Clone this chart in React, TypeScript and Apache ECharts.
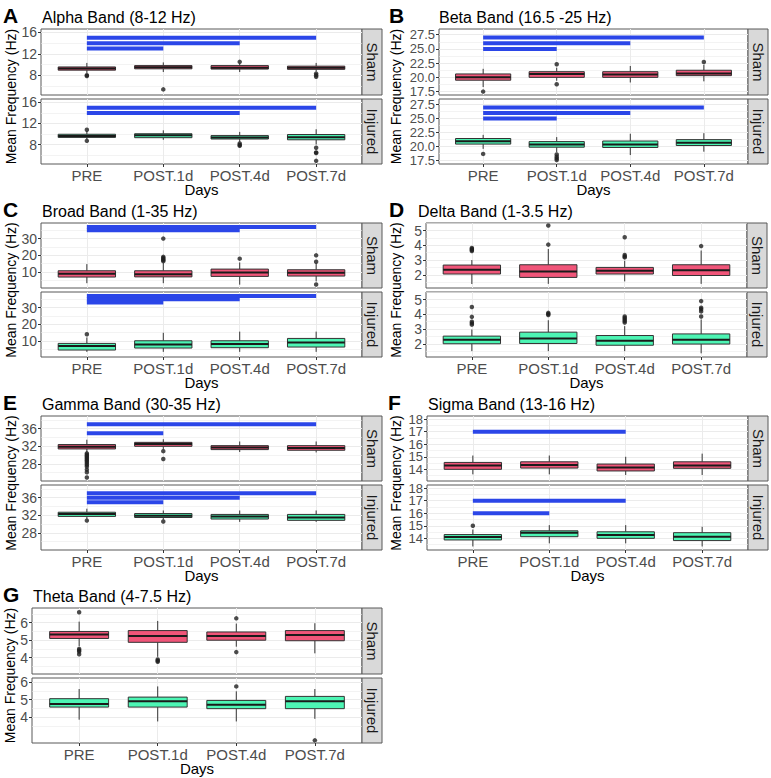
import React, { useEffect, useRef } from "react";
import * as echarts from "echarts";

const days = ["PRE", "POST.1d", "POST.4d", "POST.7d"];

// ---------- Alpha Band (8-12 Hz) ----------
const alphaTicks = [8, 12, 16];
const alphaMinor = [6, 10, 14];
const alphaRangeSham = [4.3, 16.65];
const alphaRangeInjured = [4.3, 16.65];
const alphaShamBox = [[8.4, 8.95, 9.25, 9.55, 10.3], [8.6, 9.2, 9.5, 9.8, 10.4], [8.6, 9.15, 9.4, 9.8, 10.2], [8.7, 9.1, 9.4, 9.7, 10.3]];
const alphaShamOut = [[8.0, 7.85], [5.35], [10.5], [8.3, 8.0, 7.7]];
const alphaShamSig = [[15, 4], [14, 3], [13, 2]];
const alphaInjuredBox = [[9.0, 9.35, 9.6, 9.95, 10.5], [8.9, 9.3, 9.75, 10.05, 10.7], [8.5, 9.05, 9.35, 9.7, 10.4], [8.0, 8.9, 9.4, 9.9, 10.9]];
const alphaInjuredOut = [[10.8, 8.7], [], [8.2, 7.9, 7.75], [7.4, 6.5, 6.4, 4.9]];
const alphaInjuredSig = [[15, 4], [14, 3]];

// ---------- Beta Band (16.5 -25 Hz) ----------
const betaTicks = [17.5, 20, 22.5, 25, 27.5];
const betaMinor = [18.75, 21.25, 23.75, 26.25];
const betaRangeSham = [16.9, 28.5];
const betaRangeInjured = [16.9, 28.5];
const betaShamBox = [[18.3, 19.5, 20.0, 20.6, 21.5], [19.4, 20.0, 20.6, 21.0, 21.7], [19.1, 20.0, 20.5, 21.0, 22.0], [19.3, 20.3, 20.7, 21.25, 22.2]];
const betaShamOut = [[17.5], [22.3, 18.8], [], [22.7]];
const betaShamSig = [[27, 4], [26, 3], [25, 2]];
const betaInjuredBox = [[19.6, 20.45, 20.95, 21.45, 22.1], [19.0, 19.9, 20.4, 20.9, 21.7], [18.5, 19.85, 20.4, 21.0, 22.3], [19.1, 20.2, 20.7, 21.25, 22.4]];
const betaInjuredOut = [[18.7], [18.6, 18.2, 17.9, 17.6], [], []];
const betaInjuredSig = [[27, 4], [26, 3], [25, 2]];

// ---------- Broad Band (1-35 Hz) ----------
const broadTicks = [10, 20, 30];
const broadMinor = [5, 15, 25, 35];
const broadRangeSham = [0.2, 39.4];
const broadRangeInjured = [0.2, 39.4];
const broadShamBox = [[3.1, 6.8, 8.8, 10.6, 14.6], [3.1, 6.9, 8.5, 10.6, 15.3], [2.2, 7.2, 9.6, 11.6, 15.6], [4.2, 7.4, 9.4, 11.2, 15.0]];
const broadShamOut = [[], [30, 19.0, 18.3, 17.6, 17.0, 16.4], [17.9], [19.9, 16.0, 2.3]];
const broadShamSig = [[37, 4], [35, 3]];
const broadInjuredBox = [[3.3, 4.4, 6.8, 8.4, 12.0], [3.3, 5.6, 7.8, 10.0, 14.8], [3.3, 5.8, 8.0, 10.0, 15.5], [3.3, 6.2, 9.0, 11.4, 15.5]];
const broadInjuredOut = [[13.9], [], [], []];
const broadInjuredSig = [[37, 4], [35, 3], [33, 2]];

// ---------- Delta Band (1-3.5 Hz) ----------
const deltaTicks = [2, 3, 4, 5];
const deltaMinor = [1.5, 2.5, 3.5, 4.5, 5.5];
const deltaRangeSham = [1.1, 5.52];
const deltaRangeInjured = [1.1, 5.52];
const deltaShamBox = [[1.37, 2.05, 2.34, 2.66, 3.0], [1.38, 1.82, 2.23, 2.68, 3.75], [1.55, 2.05, 2.27, 2.5, 2.95], [1.38, 1.95, 2.3, 2.68, 3.65]];
const deltaShamOut = [[3.82, 3.75, 3.68, 3.62], [5.35, 4.05], [4.55, 3.35, 3.25, 3.18], [3.95]];
const deltaShamSig: number[][] = [];
const deltaInjuredBox = [[1.5, 2.0, 2.27, 2.52, 2.97], [1.5, 2.02, 2.36, 2.79, 3.6], [1.5, 1.9, 2.2, 2.56, 3.2], [1.35, 1.98, 2.27, 2.67, 3.65]];
const deltaInjuredOut = [[4.5, 3.83, 3.5, 3.4, 3.3], [4.1, 4.02, 3.95], [3.85, 3.75, 3.65, 3.55, 3.45], [4.9, 4.45, 4.35, 4.2, 3.85]];
const deltaInjuredSig: number[][] = [];

// ---------- Gamma Band (30-35 Hz) ----------
const gammaTicks = [28, 32, 36];
const gammaMinor = [26, 30, 34, 38];
const gammaRangeSham = [24.1, 38.9];
const gammaRangeInjured = [24.1, 38.9];
const gammaShamBox = [[30.6, 31.4, 31.9, 32.4, 33.5], [31.4, 32.0, 32.5, 32.9, 33.6], [30.7, 31.25, 31.75, 32.15, 33.1], [30.6, 31.1, 31.6, 32.15, 33.1]];
const gammaShamOut = [[30.4, 30.1, 29.8, 29.5, 29.2, 28.9, 28.6, 28.2, 27.8, 27.4, 26.7, 26.1, 24.9], [30.9, 29.1], [], []];
const gammaShamSig = [[37, 4], [35, 2]];
const gammaInjuredBox = [[31.2, 31.75, 32.3, 32.7, 33.5], [31.0, 31.5, 31.9, 32.4, 33.1], [30.5, 31.15, 31.7, 32.2, 33.1], [30.5, 30.85, 31.5, 32.2, 33.1]];
const gammaInjuredOut = [[30.8], [30.6], [], []];
const gammaInjuredSig = [[37, 4], [36, 3], [35, 2]];

// ---------- Sigma Band (13-16 Hz) ----------
const sigmaTicks = [14, 15, 16, 17, 18];
const sigmaMinor = [13.5, 14.5, 15.5, 16.5, 17.5];
const sigmaRangeSham = [13.07, 18.25];
const sigmaRangeInjured = [13.07, 18.25];
const sigmaShamBox = [[13.6, 14.0, 14.3, 14.55, 15.1], [13.6, 14.1, 14.35, 14.6, 15.1], [13.55, 13.87, 14.15, 14.42, 15.0], [13.55, 14.08, 14.3, 14.6, 15.25]];
const sigmaShamOut: number[][] = [[], [], [], []];
const sigmaShamSig = [[17, 3]];
const sigmaInjuredBox = [[13.35, 13.87, 14.1, 14.3, 14.7], [13.6, 14.13, 14.45, 14.6, 15.05], [13.6, 14.0, 14.26, 14.52, 15.05], [13.35, 13.82, 14.13, 14.45, 14.92]];
const sigmaInjuredOut = [[15.0], [], [], []];
const sigmaInjuredSig = [[17, 3], [16, 2]];

// ---------- Theta Band (4-7.5 Hz) ----------
const thetaTicks = [4, 5, 6];
const thetaMinor = [2.5, 3.5, 4.5, 5.5, 6.5];
const thetaRangeSham = [3.07, 6.84];
const thetaRangeInjured = [2.52, 6.23];
const thetaShamBox = [[4.65, 5.1, 5.33, 5.5, 6.06], [4.05, 4.88, 5.24, 5.55, 6.1], [4.63, 5.0, 5.24, 5.47, 5.95], [4.25, 4.97, 5.3, 5.55, 5.97]];
const thetaShamOut = [[6.6, 4.5, 4.42, 4.35, 4.2], [3.9, 3.83, 3.77], [6.25, 4.32], []];
const thetaShamSig: number[][] = [];
const thetaInjuredBox = [[3.85, 4.57, 4.74, 5.05, 5.6], [3.75, 4.57, 4.9, 5.14, 5.75], [3.75, 4.48, 4.7, 4.95, 5.47], [3.9, 4.48, 4.9, 5.18, 5.6]];
const thetaInjuredOut = [[], [], [5.75], [2.67]];
const thetaInjuredSig: number[][] = [];

const FONT = "'Liberation Sans', Arial, Helvetica, sans-serif";
const SHAM_FILL = "#F05579";
const INJ_FILL = "#4DF5B4";
const BORDER = "#333333";
const FRAME = "#595959";
const GRID_MAJOR = "#EBEBEB";
const SIG_BLUE = "#2B46E8";

// layout of each panel (positions only)
const panels = [
  { key: "A", title: "Alpha Band (8-12 Hz)", left: 41, width: 321, top: 29, h1: 66, h2: 65, letterX: 3, titleX: 42, yTitleX: 11, dec: 0, tickFont: 14,
    ticks: alphaTicks, minor: alphaMinor, rS: alphaRangeSham, rI: alphaRangeInjured,
    sBox: alphaShamBox, sOut: alphaShamOut, sSig: alphaShamSig, iBox: alphaInjuredBox, iOut: alphaInjuredOut, iSig: alphaInjuredSig },
  { key: "B", title: "Beta Band (16.5 -25 Hz)", left: 439, width: 309, top: 29, h1: 66, h2: 65, letterX: 389, titleX: 439, yTitleX: 396, dec: 1, tickFont: 13,
    ticks: betaTicks, minor: betaMinor, rS: betaRangeSham, rI: betaRangeInjured,
    sBox: betaShamBox, sOut: betaShamOut, sSig: betaShamSig, iBox: betaInjuredBox, iOut: betaInjuredOut, iSig: betaInjuredSig },
  { key: "C", title: "Broad Band (1-35 Hz)", left: 41, width: 321, top: 223, h1: 65, h2: 65, letterX: 3, titleX: 42, yTitleX: 11, dec: 0, tickFont: 14,
    ticks: broadTicks, minor: broadMinor, rS: broadRangeSham, rI: broadRangeInjured,
    sBox: broadShamBox, sOut: broadShamOut, sSig: broadShamSig, iBox: broadInjuredBox, iOut: broadInjuredOut, iSig: broadInjuredSig },
  { key: "D", title: "Delta Band (1-3.5 Hz)", left: 426, width: 321, top: 223, h1: 65, h2: 65, letterX: 389, titleX: 418, yTitleX: 396, dec: 0, tickFont: 14,
    ticks: deltaTicks, minor: deltaMinor, rS: deltaRangeSham, rI: deltaRangeInjured,
    sBox: deltaShamBox, sOut: deltaShamOut, sSig: deltaShamSig, iBox: deltaInjuredBox, iOut: deltaInjuredOut, iSig: deltaInjuredSig },
  { key: "E", title: "Gamma Band (30-35 Hz)", left: 41, width: 321, top: 416, h1: 65, h2: 65, letterX: 3, titleX: 42, yTitleX: 11, dec: 0, tickFont: 14,
    ticks: gammaTicks, minor: gammaMinor, rS: gammaRangeSham, rI: gammaRangeInjured,
    sBox: gammaShamBox, sOut: gammaShamOut, sSig: gammaShamSig, iBox: gammaInjuredBox, iOut: gammaInjuredOut, iSig: gammaInjuredSig },
  { key: "F", title: "Sigma Band (13-16 Hz)", left: 427, width: 321, top: 416, h1: 65, h2: 65, letterX: 388, titleX: 428, yTitleX: 396, dec: 0, tickFont: 13,
    ticks: sigmaTicks, minor: sigmaMinor, rS: sigmaRangeSham, rI: sigmaRangeInjured,
    sBox: sigmaShamBox, sOut: sigmaShamOut, sSig: sigmaShamSig, iBox: sigmaInjuredBox, iOut: sigmaInjuredOut, iSig: sigmaInjuredSig },
  { key: "G", title: "Theta Band (4-7.5 Hz)", left: 32, width: 330, top: 608, h1: 66, h2: 65, letterX: 3, titleX: 33, yTitleX: 10, dec: 0, tickFont: 14,
    ticks: thetaTicks, minor: thetaMinor, rS: thetaRangeSham, rI: thetaRangeInjured,
    sBox: thetaShamBox, sOut: thetaShamOut, sSig: thetaShamSig, iBox: thetaInjuredBox, iOut: thetaInjuredOut, iSig: thetaInjuredSig },
];

function makeBoxRender(fill: string) {
  return (params: any, api: any) => {
    const x = api.value(0);
    const lo = api.coord([x, api.value(1)]);
    const q1 = api.coord([x, api.value(2)]);
    const md = api.coord([x, api.value(3)]);
    const q3 = api.coord([x, api.value(4)]);
    const hi = api.coord([x, api.value(5)]);
    const w = api.size([0.75, 0])[0];
    const cx = lo[0];
    return {
      type: "group",
      children: [
        { type: "line", shape: { x1: cx, y1: hi[1], x2: cx, y2: q3[1] }, style: { stroke: BORDER, lineWidth: 1 } },
        { type: "line", shape: { x1: cx, y1: q1[1], x2: cx, y2: lo[1] }, style: { stroke: BORDER, lineWidth: 1 } },
        { type: "rect", shape: { x: cx - w / 2, y: q3[1], width: w, height: q1[1] - q3[1] }, style: { fill, stroke: BORDER, lineWidth: 1 } },
        { type: "line", shape: { x1: cx - w / 2, y1: md[1], x2: cx + w / 2, y2: md[1] }, style: { stroke: "#1A1A1A", lineWidth: 2 } },
      ],
    };
  };
}

function sigRender(params: any, api: any) {
  const a = api.coord([api.value(0), api.value(2)]);
  const b = api.coord([api.value(1), api.value(2)]);
  return { type: "line", shape: { x1: a[0], y1: a[1], x2: b[0], y2: b[1] }, style: { stroke: SIG_BLUE, lineWidth: 4, lineCap: "butt" } };
}

function dayLabel(v: number) {
  const i = Math.round(v);
  return Math.abs(v - i) < 1e-6 && i >= 1 && i <= 4 ? days[i - 1] : "";
}

function buildOption() {
  const grid: any[] = [];
  const xAxis: any[] = [];
  const yAxis: any[] = [];
  const series: any[] = [];
  const elements: any[] = [];

  panels.forEach((p) => {
    const facets = [
      { name: "Sham", top: p.top, h: p.h1, range: p.rS, box: p.sBox, out: p.sOut, sig: p.sSig, fill: SHAM_FILL, showX: false },
      { name: "Injured", top: p.top + p.h1 + 4, h: p.h2, range: p.rI, box: p.iBox, out: p.iOut, sig: p.iSig, fill: INJ_FILL, showX: true },
    ];
    // major ticks split into two interleaved sets so the library never drops a crowded label
    const evenTicks = p.ticks.filter((_: number, i: number) => i % 2 === 0);
    const oddTicks = p.ticks.filter((_: number, i: number) => i % 2 === 1);
    facets.forEach((f) => {
      const gi = grid.length;
      grid.push({ left: p.left, top: f.top, width: p.width, height: f.h, show: true, borderColor: FRAME, borderWidth: 1, backgroundColor: "#FFFFFF" });
      xAxis.push({
        gridIndex: gi, type: "value", min: 0.4, max: 4.6,
        axisLine: { show: false, onZero: false },
        axisTick: { show: f.showX, length: 3, customValues: [1, 2, 3, 4], lineStyle: { color: BORDER } },
        axisLabel: { show: f.showX, customValues: [1, 2, 3, 4], interval: 0, formatter: dayLabel, margin: 4, color: "#4D4D4D", fontSize: 15, fontFamily: FONT, showMinLabel: true, showMaxLabel: true, hideOverlap: false },
        splitLine: { show: true, lineStyle: { color: GRID_MAJOR, width: 1 } },
      });
      const majorAxis = (vals: number[]) => ({
        gridIndex: gi, type: "value", min: f.range[0], max: f.range[1], position: "left",
        axisLine: { show: false },
        axisTick: { show: vals.length > 0, length: 3, customValues: vals, lineStyle: { color: BORDER } },
        axisLabel: {
          show: vals.length > 0, customValues: vals, interval: 0, formatter: (v: number) => v.toFixed(p.dec), margin: 4, color: "#4D4D4D",
          fontSize: p.tickFont, lineHeight: 12, fontFamily: FONT, showMinLabel: true, showMaxLabel: true, hideOverlap: false,
        },
        splitLine: { show: vals.length > 0, lineStyle: { color: GRID_MAJOR, width: 1 } },
      });
      yAxis.push(majorAxis(evenTicks));
      yAxis.push(majorAxis(oddTicks));
      yAxis.push({
        gridIndex: gi, type: "value", min: f.range[0], max: f.range[1], position: "left",
        axisLine: { show: false },
        axisTick: { show: false, customValues: p.minor },
        axisLabel: { show: false, customValues: p.minor },
        splitLine: { show: true, lineStyle: { color: GRID_MAJOR, width: 0.6 } },
      });
      const yi = 3 * gi;
      series.push({
        type: "custom", xAxisIndex: gi, yAxisIndex: yi, z: 3, silent: true,
        data: f.box.map((b: number[], i: number) => [i + 1, ...b]),
        renderItem: makeBoxRender(f.fill),
      });
      series.push({
        type: "scatter", xAxisIndex: gi, yAxisIndex: yi, z: 4, silent: true, symbolSize: 4.5,
        itemStyle: { color: "#1F1F1F" },
        data: f.out.flatMap((arr: number[], i: number) => arr.map((v) => [i + 1, v])),
      });
      series.push({
        type: "custom", xAxisIndex: gi, yAxisIndex: yi, z: 5, silent: true,
        data: f.sig.map((s: number[]) => [1, s[1], s[0]]),
        renderItem: sigRender,
      });
      // strip
      elements.push({ type: "rect", shape: { x: p.left + p.width, y: f.top, width: 20, height: f.h }, style: { fill: "#D9D9D9", stroke: FRAME, lineWidth: 1 } });
      elements.push({
        type: "text", x: p.left + p.width + 10, y: f.top + f.h / 2, rotation: -Math.PI / 2,
        style: { text: f.name, font: `15px ${FONT}`, fill: "#1A1A1A", textAlign: "center", textVerticalAlign: "middle", align: "center", verticalAlign: "middle" },
      });
    });
    const bottom = p.top + p.h1 + 4 + p.h2;
    elements.push({ type: "text", x: p.letterX, y: p.top - 14, style: { text: p.key, font: `bold 21px ${FONT}`, fill: "#000", textAlign: "left", textVerticalAlign: "middle", align: "left", verticalAlign: "middle" } });
    elements.push({ type: "text", x: p.titleX, y: p.top - 12, style: { text: p.title, font: `16px ${FONT}`, fill: "#000", textAlign: "left", textVerticalAlign: "middle", align: "left", verticalAlign: "middle" } });
    elements.push({
      type: "text", x: p.yTitleX, y: (p.top + bottom) / 2, rotation: Math.PI / 2,
      style: { text: "Mean Frequency (Hz)", font: `14px ${FONT}`, fill: "#000", textAlign: "center", textVerticalAlign: "middle", align: "center", verticalAlign: "middle" },
    });
    elements.push({
      type: "text", x: p.left + p.width / 2, y: bottom + 25,
      style: { text: "Days", font: `15px ${FONT}`, fill: "#000", textAlign: "center", textVerticalAlign: "middle", align: "center", verticalAlign: "middle" },
    });
  });

  return {
    animation: false,
    backgroundColor: "#FFFFFF",
    grid, xAxis, yAxis, series,
    graphic: { elements },
  };
}

export default function App() {
  const ref = useRef<HTMLDivElement>(null);
  useEffect(() => {
    document.body.style.margin = "0";
    const chart = echarts.init(ref.current as HTMLDivElement, null, { renderer: "svg" });
    chart.setOption(buildOption() as any);
    return () => chart.dispose();
  }, []);
  return <div ref={ref} style={{ width: 771, height: 778 }} />;
}
